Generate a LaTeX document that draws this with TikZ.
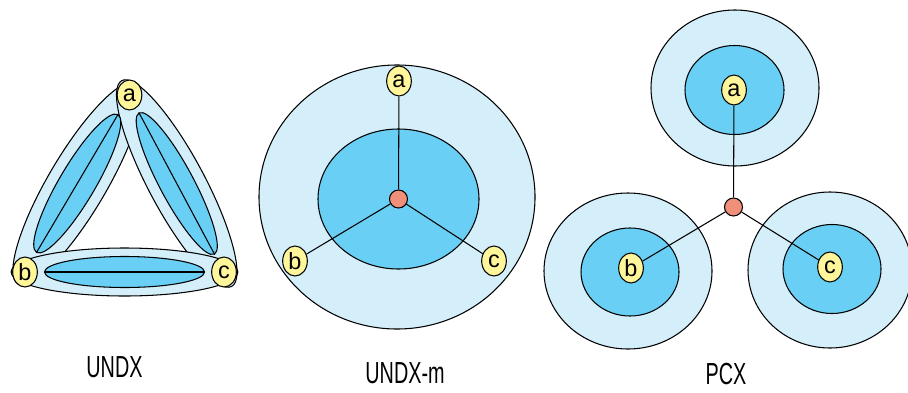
\documentclass[tikz,border=0pt]{standalone}
\usepackage{fontspec}
\usetikzlibrary{shapes.geometric}
\newfontfamily\nodefont{Liberation Sans}
\newfontfamily\capfont[FakeStretch=0.65]{Liberation Sans}
\definecolor{paleblue}{HTML}{D4EEFA}
\definecolor{deepblue}{HTML}{6ACFF5}
\definecolor{paleyellow}{HTML}{FFF59A}
\definecolor{salmon}{HTML}{F0907A}

\begin{document}
\begin{tikzpicture}[
    x=0.03cm, y=-0.03cm, line width=0.9pt,
    vertex/.style={ellipse, draw, fill=paleyellow, minimum width=0.74cm, minimum height=0.9cm, inner sep=0pt, font=\nodefont\fontsize{20}{20}\selectfont},
    hub/.style={circle, draw, fill=salmon, minimum size=0.54cm, inner sep=0pt},
    outerband/.style={ellipse, draw, fill=paleblue, minimum width=6.8cm, minimum height=1.44cm, inner sep=0pt},
    innerband/.style={ellipse, draw, fill=deepblue, minimum width=4.8cm, minimum height=0.93cm, inner sep=0pt},
    zone/.style={ellipse, draw, fill=#1, inner sep=0pt},
    caption/.style={font=\capfont\fontsize{26}{26}\selectfont, inner sep=0pt}
]
\useasboundingbox (0, 0) rectangle (908, 392);

% UNDX
\coordinate (ua) at (129.5, 95);
\coordinate (ub) at (25, 272);
\coordinate (uc) at (224, 272);
\path (ub) -- (ua) node[midway, sloped, outerband, minimum width=7cm, minimum height=1.74cm] (bandab) {};
\path (ua) -- (uc) node[midway, sloped, outerband, minimum width=7cm, minimum height=1.68cm] (bandac) {};
\path (ub) -- (uc) node[midway, sloped, outerband] (bandbc) {};
\path (ub) -- (ua) node[midway, sloped, innerband, minimum height=1.08cm] (coreab) {};
\path (ua) -- (uc) node[midway, sloped, innerband, minimum height=1.02cm] (coreac) {};
\path (ub) -- (uc) node[midway, sloped, innerband] (corebc) {};
\draw (coreab.west) -- (coreab.east);
\draw (coreac.west) -- (coreac.east);
\draw (corebc.west) -- (corebc.east);
\node[vertex] (undxa) at (ua) {a};
\node[vertex] (undxb) at (ub) {b};
\node[vertex] (undxc) at (uc) {c};
\node[caption] (undxlabel) at (114.5, 367.5) {UNDX};

% UNDX-m
\node[zone=paleblue, minimum width=8.28cm, minimum height=7.92cm] (mouter) at (397, 197) {};
\node[zone=deepblue, minimum width=4.83cm, minimum height=4.2cm] (minner) at (398.5, 199) {};
\node[hub] (mhub) at (398.5, 199) {};
\node[vertex] (ma) at (399, 81) {a};
\node[vertex] (mb) at (295, 261) {b};
\node[vertex] (mc) at (494, 261) {c};
\draw (mhub) -- (ma);
\draw (mhub) -- (mb);
\draw (mhub) -- (mc);
\node[caption] (mlabel) at (405, 373) {UNDX-m};

% PCX
\node[zone=paleblue, minimum width=5.04cm, minimum height=4.68cm] (pouta) at (735, 88) {};
\node[zone=deepblue, minimum width=2.97cm, minimum height=2.67cm] (pina) at (734.5, 90) {};
\node[zone=paleblue, minimum width=5.04cm, minimum height=4.68cm] (poutb) at (628, 271) {};
\node[zone=deepblue, minimum width=2.94cm, minimum height=2.64cm] (pinb) at (630, 272) {};
\node[zone=paleblue, minimum width=4.92cm, minimum height=4.68cm] (poutc) at (830, 270) {};
\node[zone=deepblue, minimum width=2.94cm, minimum height=2.67cm] (pinc) at (832, 269) {};
\node[hub] (phub) at (733.5, 207) {};
\node[vertex] (pa) at (734, 90) {a};
\node[vertex] (pb) at (631, 268) {b};
\node[vertex] (pc) at (830, 267) {c};
\draw (phub) -- (pa);
\draw (phub) -- (pb);
\draw (phub) -- (pc);
\node[caption] (plabel) at (726, 374) {PCX};

\end{tikzpicture}
\end{document}
